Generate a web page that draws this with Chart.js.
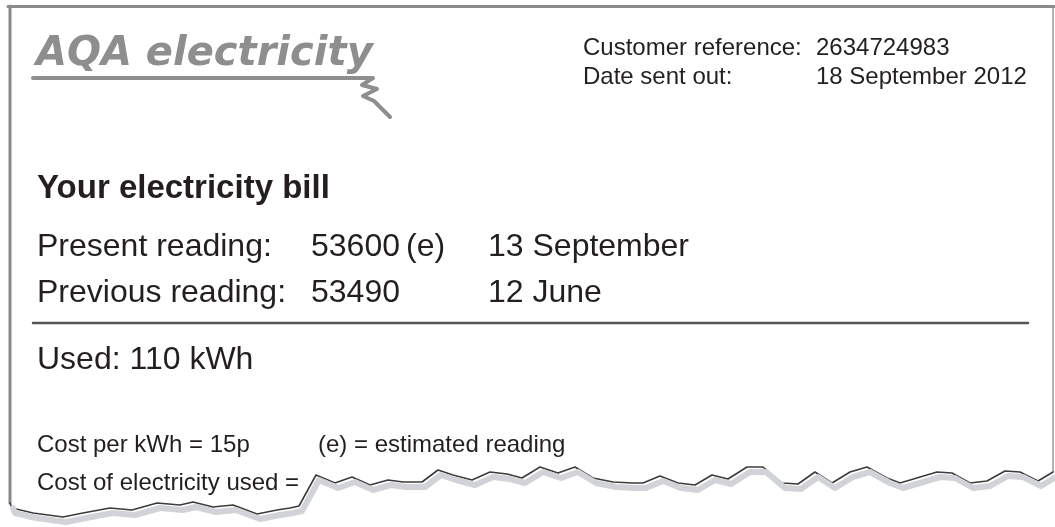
<!DOCTYPE html>
<html>
<head>
<meta charset="utf-8">
<script src="https://cdn.jsdelivr.net/npm/chart.js@4"></script>
<style>
  body { margin: 0; background: #fff; }
  #wrap { position: relative; width: 1055px; height: 527px; overflow: hidden; }
  #bill { position: absolute; left: 0; top: 0; }
  .t { position: absolute; white-space: pre; line-height: 1; color: #231f20;
       font-family: "Liberation Sans", Arial, sans-serif; }
</style>
</head>
<body>
<div id="wrap">
  <canvas id="bill" width="1055" height="527"></canvas>
</div>
<script>
// bill values
var brandName = 'AQA electricity';
var customerRef = '2634724983';
var dateSent = '18 September 2012';
var readingLabels = ['Present reading:', 'Previous reading:'];
var readingValues = [53600, 53490];
var readingNotes = ['(e)', ''];
var readingDates = ['13 September', '12 June'];
var usedKWh = 110;
var costPerKWh = 15;

// torn paper edge (left border bottom -> right border bottom)
var edgeX = [10, 12, 33, 63, 83, 110, 132, 157, 180, 193, 213, 233, 257, 277, 290, 299,
             316, 335, 352, 370, 388, 403, 422, 438, 453, 472, 490, 507, 522, 540, 558, 575,
             593, 613, 633, 643, 660, 678, 695, 712, 728, 747, 763, 782, 798, 815, 832, 850,
             867, 887, 900, 937, 952, 970, 987, 1005, 1020, 1038, 1053];
var edgeY = [503, 508, 513, 517, 513, 508, 510, 503, 505, 502, 507, 505, 514, 510, 508, 506,
             475, 483, 477, 485, 480, 482, 482, 470, 475, 480, 472, 474, 478, 467, 473, 467,
             478, 482, 483, 483, 476, 483, 485, 475, 479, 467, 467, 483, 484, 472, 483, 472,
             467, 478, 483, 472, 473, 483, 481, 471, 472, 481, 472];

// logo underline with its little zigzag
var logoX = [33, 373, 362, 377, 363, 374, 390];
var logoY = [78, 78, 85, 89, 96, 101, 117];

function pts(xs, ys, dx, dy) {
  return xs.map(function(x, i) { return {x: x + (dx || 0), y: ys[i] + (dy || 0)}; });
}

function line(data, color, width) {
  return {
    data: data, showLine: true, pointRadius: 0, borderColor: color, borderWidth: width,
    borderCapStyle: 'round', borderJoinStyle: 'round', tension: 0, fill: false
  };
}

var datasets = [
  line(pts(edgeX, edgeY, 3, 5), '#d2d3d6', 6),          // shadow under the tear
  line(pts(edgeX, edgeY), '#3c3c3c', 1.6),              // the tear
  line([{x: 8, y: 6.5}, {x: 1054, y: 6.5}], '#8a8a8a', 3),
  line([{x: 10, y: 6}, {x: 10, y: 503}], '#8a8a8a', 3),
  line([{x: 1053, y: 6}, {x: 1053, y: 472}], '#9a9a9a', 1.5),
  line([{x: 33, y: 323}, {x: 1028, y: 323}], '#555555', 2.5),
  line(pts(logoX, logoY), '#8e8e8e', 4)
];

var billChart = new Chart(document.getElementById('bill'), {
  type: 'scatter',
  data: { datasets: datasets },
  options: {
    responsive: false,
    animation: false,
    layout: { padding: 0 },
    plugins: { legend: { display: false }, tooltip: { enabled: false } },
    scales: {
      x: { type: 'linear', min: 0, max: 1055, display: false },
      y: { type: 'linear', min: 0, max: 527, reverse: true, display: false }
    }
  }
});

// text goes on top as real text
var wrap = document.getElementById('wrap');
function txt(s, x, baseline, size, extra) {
  var d = document.createElement('div');
  d.className = 't';
  d.textContent = s;
  d.style.left = x + 'px';
  d.style.top = (baseline - 0.8465 * size) + 'px';
  d.style.fontSize = size + 'px';
  if (extra) for (var k in extra) d.style[k] = extra[k];
  wrap.appendChild(d);
}

txt(brandName, 36, 65, 40, {fontFamily: '"DejaVu Sans", sans-serif', fontWeight: 'bold',
    fontStyle: 'italic', color: '#8e8e8e'});
txt('Customer reference:', 583, 55, 24);
txt(customerRef, 816, 55, 24);
txt('Date sent out:', 583, 84, 24);
txt(dateSent, 816, 84, 24);

txt('Your electricity bill', 37, 198, 33, {fontWeight: 'bold'});
var rowBase = [256, 302];
for (var i = 0; i < readingLabels.length; i++) {
  txt(readingLabels[i], 37, rowBase[i], 32);
  txt(String(readingValues[i]), 311, rowBase[i], 32);
  if (readingNotes[i]) txt(readingNotes[i], 406, rowBase[i], 32);
  txt(readingDates[i], 488, rowBase[i], 32);
}
txt('Used: ' + usedKWh + ' kWh', 37, 369, 32);
txt('Cost per kWh = ' + costPerKWh + 'p', 37, 452, 24);
txt('(e) = estimated reading', 318, 452, 24);
txt('Cost of electricity used =', 37, 490, 24);
</script>
</body>
</html>
